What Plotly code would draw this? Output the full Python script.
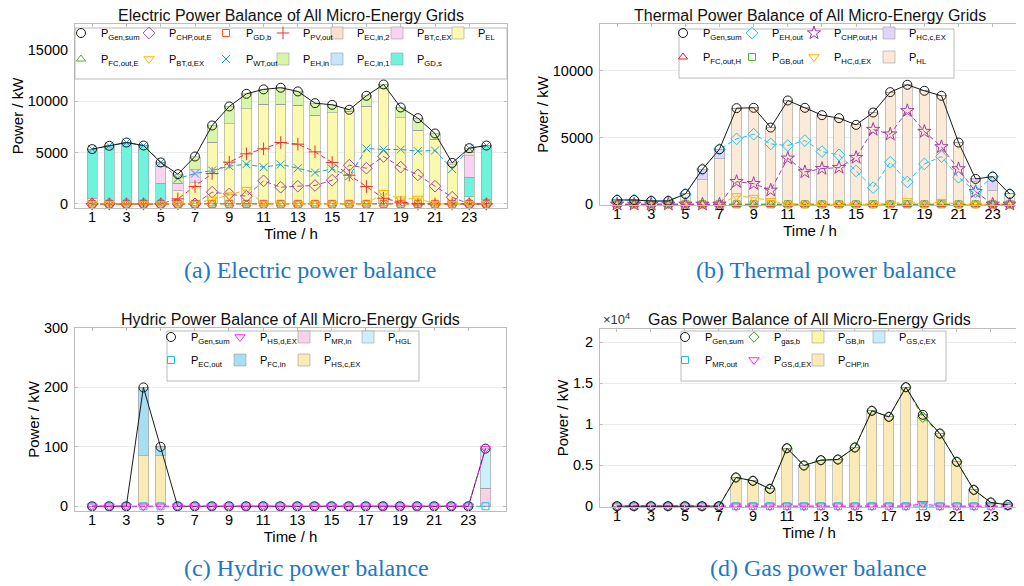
import plotly.graph_objects as go

W, H = 1024, 586
FONT = "Liberation Sans"
SERIF = "Liberation Serif"

hours = list(range(1, 25))
x_ticks = [1, 3, 5, 7, 9, 11, 13, 15, 17, 19, 21, 23]

# ---------------- (a) Electric power balance ----------------
e_gen_sum = [5330, 5650, 5970, 5680, 4030, 2890, 4610, 7630, 9480, 10710, 11140, 11300,
             10940, 9800, 9640, 9160, 10520, 11620, 9380, 8340, 6850, 3990, 5420, 5680]
e_chp_out = [0, 0, 0, 0, 0, 0, 0, 1140, 970, 750, 2240, 1620,
             1720, 1790, 2300, 3770, 3470, 4610, 3570, 2820, 1720, 650, 0, 0]
e_gd_b = [0] * 24
e_pv_out = [0, 0, 0, 0, 0, 490, 1690, 2950, 4060, 4870, 5360, 5970,
            5810, 5060, 4030, 2790, 1690, 550, 160, 0, 0, 0, 0, 0]
e_fc_out = [0] * 24
e_bt_d = [0, 0, 0, 0, 0, 0, 0, 450, 850, 1380, 0, 0,
          0, 0, 0, 0, 0, 1080, 460, 530, 0, 0, 0, 0]
e_wt_out = [5330, 5650, 5970, 5680, 4030, 2470, 2950, 3250, 3670, 3860, 3570, 3830,
            3470, 3050, 3410, 2690, 5390, 5290, 5290, 5130, 5190, 3380, 5420, 5680]
e_el = [550, 300, 200, 300, 0, 1300, 2050, 6000, 7800, 9250, 9680, 9700,
        9600, 8640, 8860, 9030, 9480, 11200, 8380, 7180, 6300, 3830, 700, 400]
e_gd_s = [4780, 5350, 5770, 5380, 2000, 0, 0, 0, 0, 0, 0, 0,
          0, 0, 0, 0, 0, 0, 0, 0, 0, 0, 1900, 5280]
e_bt_c = [0, 0, 0, 0, 1650, 700, 1250, 0, 0, 0, 0, 0,
          0, 0, 0, 0, 0, 0, 0, 0, 0, 0, 2100, 0]
e_ec_in2 = [0, 0, 0, 0, 380, 0, 0, 0, 0, 0, 0, 0,
            0, 0, 0, 0, 0, 0, 0, 0, 0, 0, 300, 0]
e_ec_in1 = [0] * 24
e_eh_in = [0, 0, 0, 0, 0, 890, 1310, 1630, 1680, 1460, 1460, 1600,
           1340, 1160, 780, 130, 1040, 420, 1000, 1160, 550, 160, 420, 0]

# ---------------- (b) Thermal power balance ----------------
h_gen_sum = [325, 325, 250, 250, 775, 2625, 4125, 7200, 7225, 5750, 7775, 7225,
             6675, 6450, 5950, 6875, 8400, 8950, 8500, 8125, 4625, 1900, 2075, 775]
h_eh_out = [325, 325, 250, 250, 775, 2625, 4125, 4900, 5250, 4525, 4400, 4775,
            3950, 3700, 2500, 1250, 3150, 1675, 3025, 3575, 2025, 950, 2075, 775]
h_chp_out = [0, 0, 0, 0, 0, 0, 0, 1700, 1550, 1050, 3450, 2425,
             2675, 2750, 3500, 5600, 5250, 7000, 5450, 4300, 2650, 950, 0, 0]
h_fc_out = [0] * 24
h_gb_out = [0] * 24
h_hc_d = [0, 0, 0, 0, 0, 0, 0, 625, 500, 275, 0, 0,
          0, 0, 0, 0, 0, 250, 0, 200, 0, 0, 0, 0]
h_hl = [325, 325, 250, 250, 775, 1850, 3400, 7200, 7225, 5750, 7775, 7225,
        6675, 6450, 5950, 6875, 8400, 8950, 8500, 8125, 4625, 1700, 1000, 775]
h_hc_c = [0, 0, 0, 0, 0, 775, 725, 0, 0, 0, 0, 0,
          0, 0, 0, 0, 0, 0, 0, 0, 0, 200, 1075, 0]

# ---------------- (c) Hydric power balance ----------------
y_gen_sum = [0, 0, 0, 200, 100, 0, 0, 0, 0, 0, 0, 0,
             0, 0, 0, 0, 0, 0, 0, 0, 0, 0, 0, 97]
y_hs_d = [0] * 23 + [97]
y_ec_out = [0] * 24
y_hs_c = [0, 0, 0, 85, 85] + [0] * 19
y_fc_in = [0, 0, 0, 115, 15] + [0] * 19
y_mr_in = [0] * 23 + [30]
y_hgl = [0] * 23 + [67]

# ---------------- (d) Gas power balance ----------------
g_gen_sum = [0, 0, 0, 0, 0, 0, 0, 3500, 3090, 2110, 7070, 4960,
             5610, 5690, 7150, 11630, 10890, 14510, 11140, 8860, 5410, 1990, 450, 160]
g_gas_b = [0, 0, 0, 0, 0, 0, 0, 3500, 3090, 2110, 7070, 4960,
           5610, 5690, 7150, 11630, 10890, 14510, 10840, 8860, 5410, 1990, 450, 160]
g_mr_out = [0] * 24
g_gs_d = [0] * 18 + [300] + [0] * 5
g_chp_in = [0, 0, 0, 0, 0, 0, 0, 3500, 3090, 2110, 7070, 4960,
            5610, 5690, 7150, 11630, 10890, 14510, 11140, 8860, 5410, 1990, 450, 160]
g_gb_in = [0] * 24
g_gs_c = [0] * 24

fig = go.Figure()

legends = {}
LEG_FONT = 11


def new_legend(xc, yc):
    # one single-entry legend per cell of the in-axes legend grid
    n = len(legends) + 1
    name = "legend" if n == 1 else f"legend{n}"
    legends[name] = dict(x=(xc - 25) / W, y=(H - (yc - 9)) / H, xanchor="left", yanchor="middle",
                         bgcolor="rgba(0,0,0,0)", borderwidth=0,
                         font=dict(family=FONT, size=LEG_FONT, color="black"))
    return name


def add_line(name, y, color, symbol, dash, ax, pos, size=8):
    xa, ya = ax
    fig.add_trace(go.Scatter(x=hours, y=y, mode="lines", showlegend=False,
                             line=dict(color=color, width=1, dash=dash),
                             xaxis=xa, yaxis=ya, cliponaxis=False, hoverinfo="skip"))
    fig.add_trace(go.Scatter(x=hours, y=y, mode="markers", name=name,
                             legend=new_legend(*pos),
                             marker=dict(symbol=symbol, size=size, color=color,
                                         line=dict(color=color, width=1)),
                             xaxis=xa, yaxis=ya, cliponaxis=False))


def add_bar(name, y, color, ax, pos):
    xa, ya = ax
    fig.add_trace(go.Bar(x=hours, y=y, name=name, legend=new_legend(*pos), width=0.6,
                         marker=dict(color=color, line=dict(color="#9e9e9e", width=0.6)),
                         xaxis=xa, yaxis=ya))


DASH = "5px,3px"
A = ("x", "y")
B = ("x2", "y2")
C = ("x3", "y3")
D = ("x4", "y4")

# (a) legend grid (symbol centres, px)
ac = [78, 146, 223, 280, 334, 394, 455]
ar = [34, 60]
add_bar("P<sub>EL</sub>", e_el, "#FBF9AE", A, (ac[6], ar[0]))
add_bar("P<sub>GD,s</sub>", e_gd_s, "#6FF3DC", A, (ac[5], ar[1]))
add_bar("P<sub>BT,c,EX</sub>", e_bt_c, "#FAD3F4", A, (ac[5], ar[0]))
add_bar("P<sub>EC,in,2</sub>", e_ec_in2, "#FCE0CC", A, (ac[4], ar[0]))
add_bar("P<sub>EC,in,1</sub>", e_ec_in1, "#C4E5FA", A, (ac[4], ar[1]))
add_bar("P<sub>EH,in</sub>", e_eh_in, "#D8F5A8", A, (ac[3], ar[1]))
add_line("P<sub>FC,out,E</sub>", e_fc_out, "#5AAE2E", "triangle-up-open", DASH, A, (ac[0], ar[1]), 8)
add_line("P<sub>GD,b</sub>", e_gd_b, "#FF5A1E", "square-open", DASH, A, (ac[2], ar[0]), 7)
add_line("P<sub>CHP,out,E</sub>", e_chp_out, "#A349A8", "diamond-open", DASH, A, (ac[1], ar[0]), 9)
add_line("P<sub>PV,out</sub>", e_pv_out, "#E8303A", "cross-thin-open", DASH, A, (ac[3], ar[0]), 9)
add_line("P<sub>BT,d,EX</sub>", e_bt_d, "#FFB300", "triangle-down-open", DASH, A, (ac[1], ar[1]), 9)
add_line("P<sub>WT,out</sub>", e_wt_out, "#1E9AD6", "x-thin-open", DASH, A, (ac[2], ar[1]), 8)
add_line("P<sub>Gen,sum</sub>", e_gen_sum, "#1a1a1a", "circle-open", "solid", A, (ac[0], ar[0]), 9)

# (b)
bc = [680, 749, 811, 886]
br = [34, 58]
add_bar("P<sub>HL</sub>", h_hl, "#FCEAD8", B, (bc[3], br[1]))
add_bar("P<sub>HC,c,EX</sub>", h_hc_c, "#E1D4F8", B, (bc[3], br[0]))
add_line("P<sub>FC,out,H</sub>", h_fc_out, "#E0202C", "triangle-up-open", DASH, B, (bc[0], br[1]), 8)
add_line("P<sub>GB,out</sub>", h_gb_out, "#4FB030", "square-open", DASH, B, (bc[1], br[1]), 7)
add_line("P<sub>HC,d,EX</sub>", h_hc_d, "#FFB300", "triangle-down-open", DASH, B, (bc[2], br[1]), 9)
add_line("P<sub>CHP,out,H</sub>", h_chp_out, "#A23CA6", "star-open", DASH, B, (bc[2], br[0]), 10)
add_line("P<sub>EH,out</sub>", h_eh_out, "#22C4EE", "diamond-open", DASH, B, (bc[1], br[0]), 9)
add_line("P<sub>Gen,sum</sub>", h_gen_sum, "#1a1a1a", "circle-open", "solid", B, (bc[0], br[0]), 9)

# (c)
cc = [168, 237, 301, 365]
cr = [338, 361]
add_bar("P<sub>HS,c,EX</sub>", y_hs_c, "#FBEAB3", C, (cc[2], cr[1]))
add_bar("P<sub>MR,in</sub>", y_mr_in, "#FAD2E6", C, (cc[2], cr[0]))
add_bar("P<sub>FC,in</sub>", y_fc_in, "#A8DDF2", C, (cc[1], cr[1]))
add_bar("P<sub>HGL</sub>", y_hgl, "#CDEFFA", C, (cc[3], cr[0]))
add_line("P<sub>EC,out</sub>", y_ec_out, "#22BEE8", "square-open", DASH, C, (cc[0], cr[1]), 7)
add_line("P<sub>Gen,sum</sub>", y_gen_sum, "#1a1a1a", "circle-open", "solid", C, (cc[0], cr[0]), 9)
add_line("P<sub>HS,d,EX</sub>", y_hs_d, "#FF22FF", "triangle-down-open", DASH, C, (cc[1], cr[0]), 9)

# (d)
dc = [682, 751, 815, 876]
dr = [338, 361]
add_bar("P<sub>CHP,in</sub>", g_chp_in, "#FBEAB8", D, (dc[2], dr[1]))
add_bar("P<sub>GB,in</sub>", g_gb_in, "#FAF7A6", D, (dc[2], dr[0]))
add_bar("P<sub>GS,c,EX</sub>", g_gs_c, "#C8ECFA", D, (dc[3], dr[0]))
add_line("P<sub>MR,out</sub>", g_mr_out, "#22BEE8", "square-open", DASH, D, (dc[0], dr[1]), 7)
add_line("P<sub>gas,b</sub>", g_gas_b, "#3FA020", "diamond-open", DASH, D, (dc[1], dr[0]), 8)
add_line("P<sub>GS,d,EX</sub>", g_gs_d, "#FF22FF", "triangle-down-open", DASH, D, (dc[1], dr[1]), 9)
add_line("P<sub>Gen,sum</sub>", g_gen_sum, "#1a1a1a", "circle-open", "solid", D, (dc[0], dr[0]), 9)


def dom_x(a, b):
    return [a / W, b / W]


def dom_y(top, bottom):
    return [(H - bottom) / H, (H - top) / H]


AX_COL = "#bdbdbd"


def xaxis(dom, anchor, rng):
    return dict(domain=dom, anchor=anchor, range=rng, tickvals=x_ticks, automargin=False,
                showline=True, linecolor=AX_COL, linewidth=1, mirror="ticks",
                ticks="inside", ticklen=3, tickcolor=AX_COL, showgrid=False, zeroline=False,
                ticklabelstandoff=-4,
                tickfont=dict(family=FONT, size=14.5, color="black"),
                title=dict(text="Time / h", font=dict(family=FONT, size=15, color="black"), standoff=4))


def yaxis(dom, anchor, rng, tickvals, ticktext):
    return dict(domain=dom, anchor=anchor, range=rng, tickvals=tickvals, ticktext=ticktext,
                automargin=False, showline=True, linecolor=AX_COL, linewidth=1, mirror="ticks",
                ticks="inside", ticklen=3, tickcolor=AX_COL, showgrid=True, gridcolor="#ebebeb",
                zeroline=False, ticklabelstandoff=3,
                tickfont=dict(family=FONT, size=14.5, color="black"),
                title=dict(text="Power / kW", font=dict(family=FONT, size=15, color="black"), standoff=0))


AXY = (16, 200)
BXY = (16, 197)
CXY = (320, 503)
DXY = (321, 499)
AXX = (67, 499)
BXX = (592, 1012)
CXX = (67, 498)
DXX = (592, 1010)

fig.update_layout(
    template="none",
    width=W, height=H, margin=dict(l=0, r=0, t=0, b=0, autoexpand=False),
    paper_bgcolor="white", plot_bgcolor="white", barmode="stack",
    font=dict(family=FONT, color="black"), showlegend=True,
    xaxis=xaxis(dom_x(*AXX), "y", [0, 25.2]),
    yaxis=yaxis(dom_y(*AXY), "x", [-400, 17500], [0, 5000, 10000, 15000],
                ["0", "5000", "10000", "15000"]),
    xaxis2=xaxis(dom_x(*BXX), "y2", [0, 24.6]),
    yaxis2=yaxis(dom_y(*BXY), "x2", [-50, 13500], [0, 5000, 10000],
                 ["0", "5000", "10000"]),
    xaxis3=xaxis(dom_x(*CXX), "y3", [0, 25.2]),
    yaxis3=yaxis(dom_y(*CXY), "x3", [-8, 300], [0, 100, 200, 300],
                 ["0", "100", "200", "300"]),
    xaxis4=xaxis(dom_x(*DXX), "y4", [0, 24.6]),
    yaxis4=yaxis(dom_y(*DXY), "x4", [-100, 21600], [0, 5000, 10000, 15000, 20000],
                 ["0", "0.5", "1", "1.5", "2"]),
)
fig.update_layout(**legends)

# legend frames
boxes = [(67, 20, 499, 71), (671, 21, 946, 70), (159, 323, 411, 373), (673, 323, 938, 373)]
for x0, y0, x1, y1 in boxes:
    fig.add_shape(type="rect", xref="paper", yref="paper", layer="above",
                  x0=x0 / W, x1=x1 / W, y0=(H - y1) / H, y1=(H - y0) / H,
                  fillcolor="white", line=dict(color="#a8a8a8", width=0.8))

titles = [
    ("Electric Power Balance of All Micro-Energy Grids", (AXX[0] + AXX[1]) / 2, 8),
    ("Thermal Power Balance of All Micro-Energy Grids", (BXX[0] + BXX[1]) / 2, 8),
    ("Hydric Power Balance of All Micro-Energy Grids", (CXX[0] + CXX[1]) / 2, 311),
    ("Gas Power Balance of All Micro-Energy Grids", (DXX[0] + DXX[1]) / 2, 311),
]
for t, xc, yc in titles:
    fig.add_annotation(text=t, xref="paper", yref="paper", x=xc / W, y=(H - yc) / H,
                       xanchor="center", yanchor="middle", showarrow=False,
                       font=dict(family=FONT, size=16, color="#111111"))

captions = [
    ("(a) Electric power balance", 302, 262),
    ("(b) Thermal power balance", 818, 262),
    ("(c) Hydric power balance", 298, 560),
    ("(d) Gas power balance", 810, 560),
]
for t, xc, yc in captions:
    fig.add_annotation(text=t, xref="paper", yref="paper", x=xc / W, y=(H - yc) / H,
                       xanchor="center", yanchor="middle", showarrow=False,
                       font=dict(family=SERIF, size=24, color="#1B78C4"))

fig.add_annotation(text="×10<sup>4</sup>", xref="paper", yref="paper", x=593 / W, y=(H - 311) / H,
                   xanchor="left", yanchor="middle", showarrow=False,
                   font=dict(family=FONT, size=13, color="#333333"))

fig.write_html("out.html")
